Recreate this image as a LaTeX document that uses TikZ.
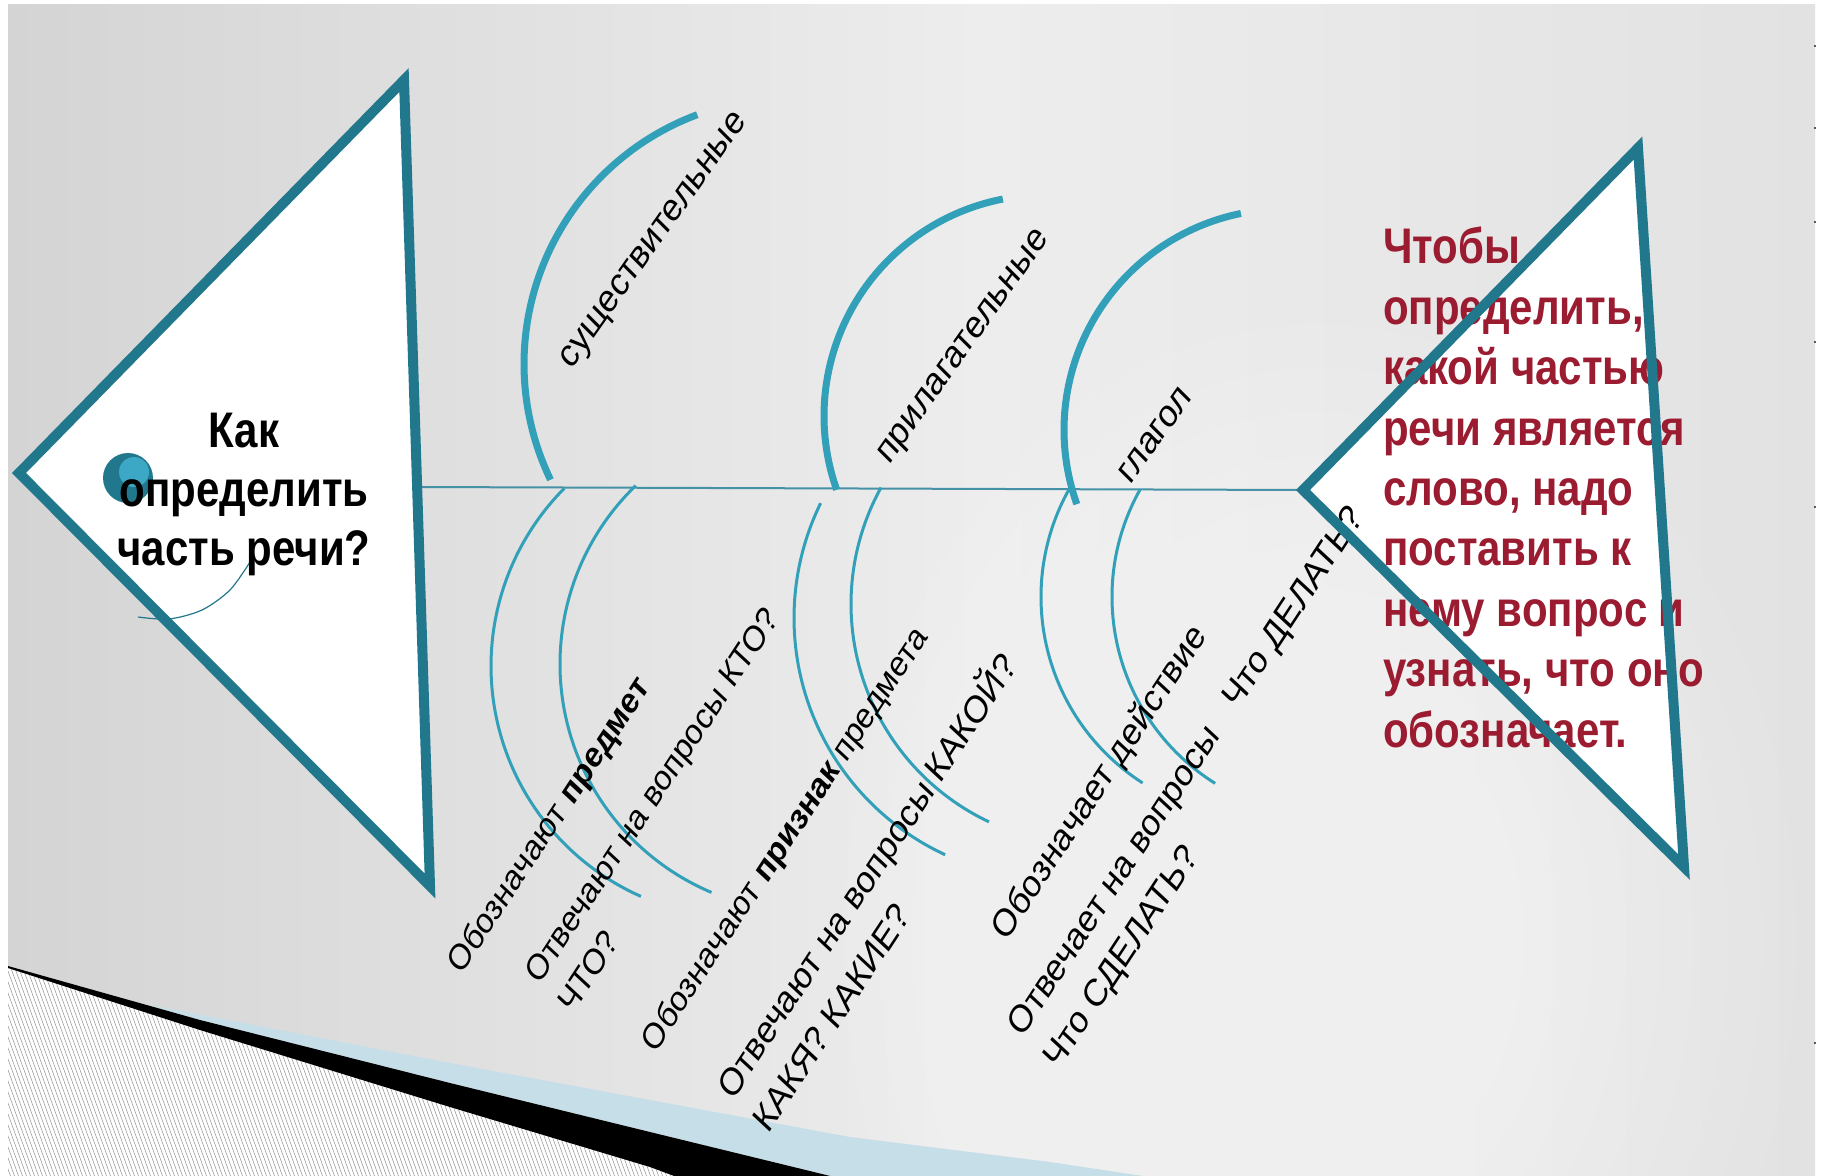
\documentclass[tikz,border=0pt]{standalone}
\usepackage{fontspec}
\setmainfont{Liberation Sans}

\definecolor{fishline}{RGB}{33,120,140}
\definecolor{boneline}{RGB}{50,160,185}
\definecolor{spineline}{RGB}{70,145,165}
\definecolor{eyelight}{RGB}{60,168,198}
\definecolor{notered}{RGB}{155,27,48}
\definecolor{bgleft}{RGB}{212,212,212}
\definecolor{bgmid}{RGB}{237,237,237}
\definecolor{bgright}{RGB}{226,226,226}
\definecolor{curlblue}{RGB}{198,222,232}

\pgfdeclarehorizontalshading{slidebg}{100bp}{color(0bp)=(bgleft); color(25bp)=(bgleft); color(52bp)=(bgmid); color(75bp)=(bgright); color(100bp)=(bgright)}

\begin{document}
\begin{tikzpicture}[x=1pt,y=-1pt,
  fish/.style={draw=fishline, line width=10pt, line join=miter},
  bone/.style={draw=boneline, line width=7pt},
  rib/.style={draw=boneline, line width=3pt},
  squeeze/.style={xscale=0.84},
  bonetext/.style={squeeze, rotate=50, inner sep=0pt, font=\fontsize{39}{46}\selectfont},
  ribtext/.style={squeeze, rotate=52, inner sep=0pt, align=left, font=\fontsize{36}{49}\selectfont},
  bigrib/.style={ribtext, font=\fontsize{38.5}{54}\selectfont}]

\useasboundingbox (0,0) rectangle (1822,1175);

% Fond
\fill[white] (0,0) rectangle (1822,1175);
\shade[shading=slidebg] (8,4) rectangle (1815,1175);
\foreach \r in {1,...,14}
  \fill[white, opacity=0.06] (1320,940) ellipse ({34*\r} and {44*\r});
\foreach \y in {45,127,221,341,506,1042}
  \fill[gray!70!black] (1814,\y) rectangle +(2,2);

% Coin de page
\begin{scope}
\clip (8,968) -- (200,1030) -- (450,1107) -- (650,1167) -- (690,1180) -- (8,1180) -- cycle;
\fill[white] (0,950) rectangle (700,1180);
\foreach \x in {-100,-96,...,700}
  \draw[gray!75, line width=0.6pt] (\x,960) -- ++(80,220);
\end{scope}
\begin{scope}
\clip (8,0) rectangle (1815,1175);
\fill[curlblue] (150,1005) -- (450,1063) -- (650,1100) -- (850,1137) -- (1050,1162) -- (1170,1180)
  -- (900,1193) -- (650,1132) -- (450,1083) -- (200,1020) -- cycle;
\fill[black] (8,966) -- (200,1020) -- (450,1083) -- (650,1132) -- (900,1193)
  -- (900,1260) -- (650,1167) -- (450,1107) -- (200,1030) -- (8,968) -- cycle;
\end{scope}

% Points des triangles
\coordinate (gh) at (404,80);
\coordinate (gp) at (19,473);
\coordinate (gb) at (430,886);
\coordinate (dos) at (418,487);
\coordinate (tete) at (1303,490);
\coordinate (dh) at (1638,148);
\coordinate (db) at (1684,867);

% Arete centrale
\draw[spineline, line width=2pt] (dos) -- (tete);

% Grandes aretes
\draw[bone] (790,364) ++(249.6:266) arc[start angle=249.6, end angle=154.2, radius=266];
\draw[bone] (1045,416) ++(259:221) arc[start angle=259, end angle=160.5, radius=221];
\draw[bone] (1285,430) ++(258.5:221) arc[start angle=258.5, end angle=160.4, radius=221];

% Petites aretes
\draw[rib] (743,666) ++(224.8:252) arc[start angle=224.8, end angle=113.9, radius=252];
\draw[rib] (808,664) ++(226:248) arc[start angle=226, end angle=112.9, radius=248];
\draw[rib] (1055,618) ++(206.1:261) arc[start angle=206.1, end angle=114.9, radius=261];
\draw[rib] (1092,604) ++(208.9:241) arc[start angle=208.9, end angle=115.3, radius=241];
\draw[rib] (1262,597) ++(209.4:221) arc[start angle=209.4, end angle=122.7, radius=221];
\draw[rib] (1332,597) ++(209.3:220) arc[start angle=209.3, end angle=122.1, radius=220];

% Triangles blancs
\fill[white] (gh) -- (gp) -- (gb) -- cycle;
\fill[white] (tete) -- (dh) -- (db) -- cycle;

% Oeil
\fill[fishline] (128,478) circle (25);
\fill[eyelight] (134,472) circle (15);
\draw[fishline, line width=1.2pt] plot[smooth] coordinates {(250,562) (230,590) (202,610) (169,619) (138,617)};

% Textes
\node[squeeze, align=center, inner sep=0pt, font=\fontsize{50}{59}\selectfont\bfseries] (question) at (244,494) {Как\\определить\\часть речи?};
\node[squeeze, anchor=north west, inner sep=0pt, align=left, text=notered, font=\fontsize{50}{60.4}\selectfont\bfseries] (regle) at (1383,227)
  {Чтобы\\определить,\\какой частью\\речи является\\слово, надо\\поставить к\\нему вопрос и\\узнать, что оно\\обозначает.};

\node[bonetext] (nom) at (655,242) {существительные};
\node[bonetext] (adj) at (965,348) {прилагательные};
\node[bonetext] (verbe) at (1155,435) {глагол};

\node[ribtext] (nomsens) at (550,826) {Обозначают \textbf{предмет}};
\node[ribtext] (nomquest) at (668,810) {Отвечают на вопросы КТО?\\ЧТО?};
\node[ribtext] (adjsens) at (786,840) {Обозначают \textbf{признак} предмета};
\node[bigrib] (adjquest) at (882,890) {Отвечают на вопросы КАКОЙ?\\КАКЯ? КАКИЕ?};
\node[bigrib] (verbesens) at (1100,783) {Обозначает действие};
\node[bigrib] (verbequest) at (1205,789) {Отвечает на вопросы\ \ \ Что ДЕЛАТЬ?\\Что СДЕЛАТЬ?};

% Contours
\draw[fish] (gh) -- (gp) -- (gb) -- cycle;
\draw[fish] (tete) -- (dh) -- (db) -- cycle;

\end{tikzpicture}
\end{document}
